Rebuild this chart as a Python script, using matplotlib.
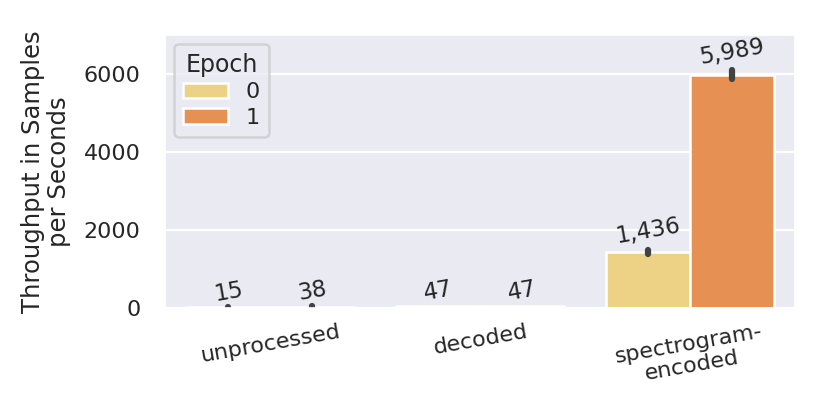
import numpy as np
import matplotlib
matplotlib.use("Agg")
import matplotlib.pyplot as plt
import seaborn as sns

# data
categories = ["unprocessed", "decoded", "spectrogram-\nencoded"]
epochs = ["0", "1"]
epoch0_values = [15, 47, 1436]
epoch1_values = [38, 47, 5989]
epoch0_err = [5, 5, 60]
epoch1_err = [5, 5, 110]
bar_colors = ["#EDD185", "#E69153"]

sns.set_theme(style="darkgrid")
plt.rcParams["font.family"] = ["DejaVu Sans"]
plt.rcParams["grid.linewidth"] = 1.6

fig, ax = plt.subplots(figsize=(8.31, 3.99), dpi=100)
fig.subplots_adjust(left=0.199, right=0.957, top=0.912, bottom=0.228)

x = np.arange(len(categories))
width = 0.4
series = [(epoch0_values, epoch0_err), (epoch1_values, epoch1_err)]
for i, (vals, errs) in enumerate(series):
    pos = x + (i - 0.5) * width
    ax.bar(pos, vals, width=width, color=bar_colors[i], label=epochs[i],
           edgecolor="white", linewidth=1.8)
    eb = ax.errorbar(pos, vals, yerr=errs, fmt="none", ecolor="#424242",
                     elinewidth=4.5, capsize=0)
    for lc in eb.lines[2]:
        lc.set_capstyle("round")
    for p, v, e in zip(pos, vals, errs):
        ax.annotate(f"{v:,}", xy=(p, v + e), xytext=(0, 1),
                    textcoords="offset points", ha="center", va="bottom",
                    rotation=10, fontsize=16.5, color="#262626")

ax.set_xlim(-0.5, 2.5)
ax.set_ylim(0, 7000)
ax.set_yticks([0, 2000, 4000, 6000])
ax.set_xticks(x)
ax.set_xticklabels(categories, rotation=10, fontsize=16, linespacing=1.15)
ax.tick_params(axis="y", labelsize=16, pad=12)
ax.set_ylabel("Throughput in Samples\nper Seconds", fontsize=17.5,
              linespacing=1.1, labelpad=9)
ax.grid(axis="x", visible=False)

leg = ax.legend(title="Epoch", loc="upper left", fontsize=16, title_fontsize=17,
                frameon=True, handlelength=2.0, borderpad=0.4, labelspacing=0.25,
                borderaxespad=0.4)
leg.get_frame().set_edgecolor("#cccccc")
leg.get_frame().set_linewidth(1.8)
for t in leg.get_texts():
    t.set_ha("right")

fig.savefig("out.png", dpi=100)
